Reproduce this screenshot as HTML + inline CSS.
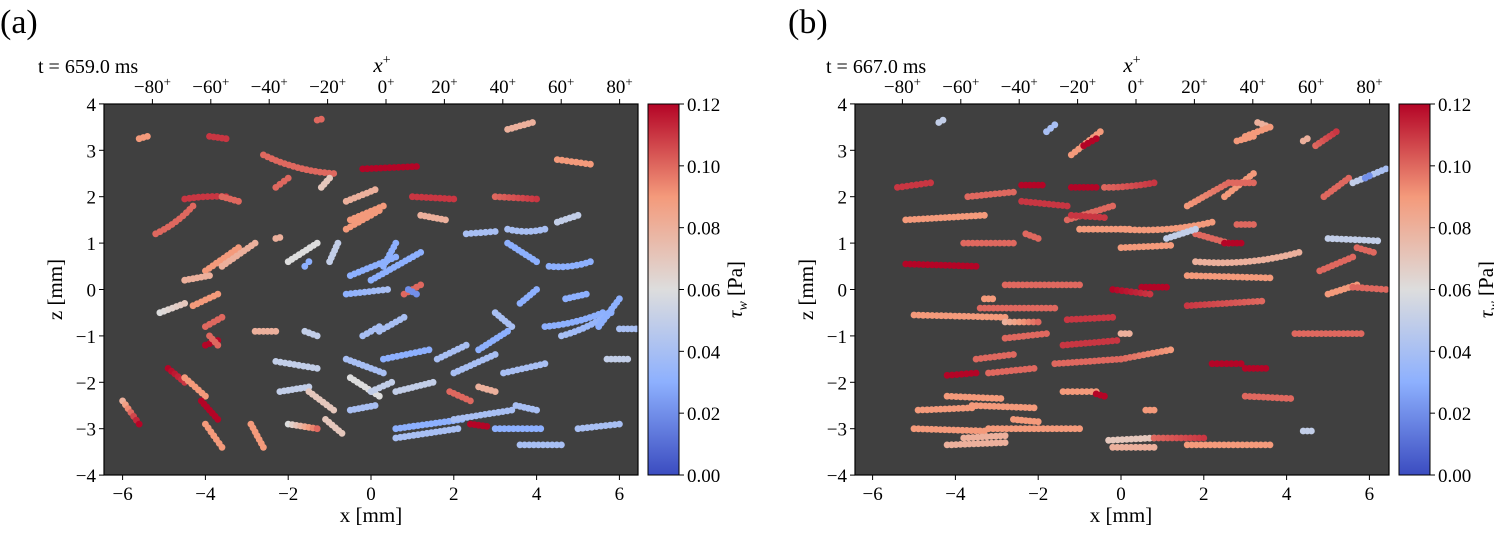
<!DOCTYPE html>
<html><head><meta charset="utf-8">
<style>
body{margin:0;background:#fff;}
svg text{font-family:"Liberation Serif",serif;fill:#000;}
</style></head>
<body>
<svg id="fig" width="1494" height="528" xmlns="http://www.w3.org/2000/svg">
<defs>
<linearGradient id="cw" x1="0" y1="1" x2="0" y2="0">
<stop offset="0" stop-color="#3b4cc0"/><stop offset="0.25" stop-color="#8db0fe"/>
<stop offset="0.5" stop-color="#dddddd"/><stop offset="0.75" stop-color="#f49a7b"/>
<stop offset="1" stop-color="#b40426"/></linearGradient>
</defs>
</svg>
<script>
// streaks: [x0, z0, x1, z1, tau0, tau1, bend]
const streaksA = [
[-5.6,3.25,-5.4,3.3,.09,.09,0],[-3.9,3.3,-3.5,3.25,.11,.11,0],[-1.3,3.65,-1.2,3.67,.1,.1,0],
[3.3,3.45,3.9,3.6,.08,.08,0],[-2.6,2.9,-0.9,2.5,.1,.1,.15],[-0.2,2.6,1.1,2.65,.12,.12,0],
[4.5,2.8,5.3,2.7,.09,.09,0],[-4.5,1.95,-3.5,2.0,.11,.11,-.05],[-3.6,2.0,-3.2,1.9,.1,.1,0],
[-5.2,1.2,-4.3,1.8,.1,.1,.1],[-2.3,2.2,-2.0,2.4,.1,.1,0],[-1.2,2.2,-1.0,2.4,.07,.07,0],
[-0.6,1.9,0.1,2.15,.08,.08,0],[-0.5,1.5,0.3,1.8,.09,.09,0],[-0.6,1.3,0.2,1.7,.09,.09,0],
[1.0,2.0,2.0,1.95,.11,.11,0],[1.2,1.6,1.8,1.5,.08,.08,0],[3.0,2.0,4.0,1.95,.1,.11,0],
[2.3,1.2,3.0,1.25,.04,.04,0],[3.3,1.3,4.2,1.3,.04,.04,.1],[4.5,1.45,5.0,1.6,.05,.05,0],
[-4.0,0.4,-3.2,0.9,.09,.09,0],[-3.6,0.5,-2.8,1.0,.08,.08,0],[-2.3,1.1,-2.2,1.12,.08,.08,0],
[-2.0,0.6,-1.3,1.0,.06,.06,0],[-1.0,0.6,-0.8,1.0,.05,.05,0],[-1.6,0.5,-1.5,0.6,.03,.03,0],
[-0.5,0.3,0.6,0.7,.03,.03,0],[0.0,0.2,1.2,0.8,.03,.03,0],[0.3,0.5,0.6,1.0,.03,.03,0],
[-4.5,0.2,-3.9,0.3,.08,.08,0],[-5.1,-0.5,-4.5,-0.3,.06,.07,0],[-4.3,-0.35,-3.7,-0.1,.09,.09,0],
[-4.0,-0.8,-3.6,-0.6,.1,.1,0],[-0.6,-0.1,0.4,0.0,.03,.04,0],[0.8,-0.1,1.2,0.1,.1,.1,0],
[0.9,0.0,1.1,-0.1,.02,.02,0],[3.3,1.0,4.0,0.6,.03,.03,0],[4.3,0.5,5.3,0.6,.03,.03,.1],
[3.6,-0.3,4.0,0.0,.03,.03,0],[4.7,-0.2,5.2,-0.1,.03,.03,0],[4.2,-0.8,5.6,-0.5,.03,.03,.1],
[4.6,-1.0,5.8,-0.5,.04,.03,.1],[3.0,-0.5,3.4,-0.8,.04,.04,0],[5.5,-0.8,6.0,-0.2,.03,.03,0],
[6.0,-0.85,6.4,-0.85,.04,.04,0],[-2.8,-0.9,-2.3,-0.9,.08,.08,0],[-1.6,-0.9,-1.3,-1.0,.05,.05,0],
[-0.2,-1.0,0.2,-0.8,.04,.04,0],[0.2,-0.9,0.8,-0.6,.04,.04,0],[-4.0,-1.2,-3.7,-1.1,.12,.12,0],
[-3.9,-1.0,-3.7,-1.2,.1,.1,0],[-2.3,-1.55,-1.3,-1.7,.05,.05,0],[-0.6,-1.5,0.3,-1.8,.04,.04,0],
[0.3,-1.5,1.4,-1.3,.03,.03,0],[1.6,-1.5,2.3,-1.2,.04,.04,0],[2.6,-1.3,3.3,-0.9,.03,.03,0],
[2.0,-1.8,3.0,-1.4,.04,.04,0],[3.2,-1.8,4.2,-1.6,.04,.04,0],[5.7,-1.5,6.2,-1.5,.05,.05,0],
[-4.9,-1.7,-4.5,-2.0,.12,.11,0],[-4.5,-1.9,-4.0,-2.3,.09,.09,0],[-2.2,-2.2,-1.5,-2.1,.05,.05,0],
[-1.5,-2.2,-0.9,-2.6,.07,.07,0],[-0.5,-1.9,0.2,-2.3,.06,.06,0],[0.0,-2.2,0.5,-2.0,.05,.05,0],
[0.6,-2.2,1.5,-2.0,.05,.05,0],[1.9,-2.2,2.4,-2.4,.1,.1,0],[2.6,-2.1,3.0,-2.2,.08,.08,0],
[-6.0,-2.4,-5.6,-2.9,.08,.12,0],[-4.1,-2.4,-3.7,-2.8,.12,.12,0],[-4.0,-2.9,-3.6,-3.4,.09,.09,0],
[-2.9,-2.9,-2.6,-3.4,.09,.09,0],[-2.0,-2.9,-1.3,-3.0,.06,.1,0],[-1.1,-2.8,-0.7,-3.1,.07,.07,0],
[-0.5,-2.6,0.1,-2.5,.04,.04,0],[0.6,-3.0,2.2,-2.8,.03,.03,0],[0.6,-3.2,2.1,-3.0,.04,.04,0],
[2.0,-2.8,3.4,-2.6,.04,.04,0],[2.4,-2.9,2.8,-2.95,.12,.12,0],[3.6,-3.35,4.6,-3.35,.04,.04,0],
[3.0,-3.0,4.1,-3.0,.03,.03,0],[5.0,-3.0,6.0,-2.9,.04,.04,0],[3.5,-2.5,4.0,-2.6,.04,.04,0]
];
const streaksB = [
[-4.4,3.6,-4.3,3.65,.05,.05,0],[-1.8,3.4,-1.6,3.55,.04,.04,0],[-1.2,2.9,-0.5,3.4,.09,.09,0],
[-0.9,3.1,-0.6,3.25,.12,.12,0],[2.8,3.2,3.2,3.3,.09,.09,0],[3.3,3.6,3.6,3.5,.08,.08,0],
[3.0,3.3,3.6,3.5,.09,.09,0],[4.4,3.2,4.5,3.25,.08,.08,0],[4.7,3.1,5.2,3.4,.1,.11,0],
[4.9,2.0,5.5,2.4,.1,.1,0],[5.6,2.3,6.4,2.6,.05,.04,0],[5.9,2.4,6.0,2.45,.02,.02,0],
[-5.4,2.2,-4.6,2.3,.11,.11,0],[-3.7,2.0,-2.6,2.1,.1,.1,0],[-2.4,1.9,-1.3,1.8,.11,.11,0],
[-2.4,2.25,-1.9,2.25,.12,.12,0],[-1.2,2.2,-0.6,2.2,.12,.12,0],[-0.4,2.2,0.8,2.3,.1,.11,.05],
[-1.3,1.5,-0.2,1.8,.1,.1,0],[-1.2,1.6,-0.4,1.55,.11,.11,0],[-5.2,1.5,-3.3,1.6,.09,.09,0],
[-2.3,1.2,-2.0,1.1,.1,.1,0],[-1.0,1.3,0.2,1.3,.09,.09,0],[0.0,1.3,2.2,1.45,.09,.09,.15],
[1.6,1.8,2.6,2.3,.09,.1,0],[2.5,2.0,3.2,2.5,.09,.09,0],[2.6,2.3,3.2,2.3,.1,.1,0],
[1.8,1.2,2.6,1.0,.1,.1,0],[1.1,1.1,1.8,1.3,.05,.05,0],[2.5,1.0,2.9,1.0,.12,.12,0],
[-3.8,1.0,-2.6,1.0,.1,.1,0],[-5.2,0.55,-3.5,0.5,.12,.12,0],[0.0,0.9,1.2,0.95,.09,.09,0],
[1.8,0.6,4.3,0.8,.08,.08,.2],[2.8,1.4,3.2,1.4,.1,.1,0],[5.0,1.1,6.2,1.05,.05,.05,0],
[5.7,0.9,6.1,0.8,.1,.1,0],[4.8,0.4,5.6,0.7,.1,.1,0],[5.0,-0.1,5.7,0.1,.09,.09,0],
[5.6,0.05,6.4,0.0,.1,.1,0],[-2.8,0.1,-1.0,0.1,.1,.1,0],[-3.3,-0.2,-3.1,-0.2,.09,.09,0],
[0.5,0.05,1.1,0.05,.12,.12,0],[-0.2,0.0,0.7,-0.1,.12,.11,0],[1.6,0.3,3.6,0.25,.09,.09,0],
[1.6,-0.35,3.4,-0.25,.11,.1,0],[-3.4,-0.4,-1.6,-0.4,.1,.1,0],[-5.0,-0.55,-2.8,-0.6,.09,.09,0],
[-2.8,-0.7,-2.0,-0.7,.08,.1,0],[-1.3,-0.65,-0.2,-0.6,.11,.11,0],[0.0,-0.95,0.2,-0.95,.08,.08,0],
[-2.8,-1.05,-1.8,-0.95,.1,.1,0],[-1.4,-1.2,-0.1,-1.1,.11,.11,0],[4.2,-0.95,5.8,-0.95,.1,.1,0],
[-3.5,-1.5,-2.6,-1.4,.1,.1,0],[-1.6,-1.6,0.0,-1.5,.1,.1,0],[0.0,-1.5,1.2,-1.3,.1,.09,0],
[-4.2,-1.85,-3.5,-1.8,.12,.12,0],[-3.2,-1.8,-2.1,-1.7,.1,.1,0],[2.2,-1.6,2.9,-1.6,.12,.12,0],
[3.0,-1.7,3.5,-1.7,.12,.12,0],[-4.2,-2.3,-2.9,-2.35,.09,.09,0],[-1.4,-2.2,-0.6,-2.2,.09,.09,0],
[-0.6,-2.25,-0.4,-2.3,.12,.12,0],[3.0,-2.3,4.1,-2.35,.1,.1,0],[-4.9,-2.6,-3.6,-2.55,.09,.09,0],
[-3.6,-2.5,-2.1,-2.55,.09,.09,0],[-2.6,-2.8,-2.0,-2.85,.09,.09,0],[-5.0,-3.0,-3.3,-3.05,.09,.09,0],
[-3.2,-3.0,-1.0,-3.0,.09,.09,0],[-3.8,-3.2,-2.8,-3.15,.08,.08,0],[-4.2,-3.35,-2.8,-3.3,.08,.08,0],
[0.6,-2.6,0.8,-2.6,.09,.09,0],[-0.3,-3.25,0.8,-3.2,.07,.07,0],[0.8,-3.2,2.0,-3.2,.1,.11,0],
[-0.2,-3.4,0.8,-3.4,.08,.08,0],[1.6,-3.35,3.6,-3.35,.09,.09,0],[4.4,-3.05,4.6,-3.05,.05,.05,0]
];
const xTicks = [-6,-4,-2,0,2,4,6];
const zTicks = [-4,-3,-2,-1,0,1,2,3,4];
const xPlusTicks = [-80,-60,-40,-20,0,20,40,60,80];
const cbTicks = [0.00,0.02,0.04,0.06,0.08,0.10,0.12];

const NS="http://www.w3.org/2000/svg";
const svg=document.getElementById('fig');
function mk(tag,attrs,parent){const e=document.createElementNS(NS,tag);for(const k in attrs)e.setAttribute(k,attrs[k]);(parent||svg).appendChild(e);return e;}
const cmapStops=[[59,76,192],[141,176,254],[221,221,221],[244,154,123],[180,4,38]];
function cmap(v){let t=Math.max(0,Math.min(1,v/0.12))*4;let i=Math.min(3,Math.floor(t));let f=t-i;const a=cmapStops[i],b=cmapStops[i+1];
return `rgb(${Math.round(a[0]+(b[0]-a[0])*f)},${Math.round(a[1]+(b[1]-a[1])*f)},${Math.round(a[2]+(b[2]-a[2])*f)})`;}

function panel(p){
  const L=p.left,R=p.right,T=104,B=475;
  const xs=x=>p.x0+x*41.4, zs=z=>(T+B)/2-z*46.4;
  const xp=v=>p.xp0+v*2.92;
  const g=mk('g',{});
  
  
  const lab=mk('text',{x:p.labX,y:33,'font-size':34},g);lab.textContent=p.label;
  
  const tt=mk('text',{x:p.labX+38,y:73,'font-size':20},g);tt.textContent=p.time;
  
  const bg=mk('rect',{x:L,y:T,width:R-L,height:B-T,fill:'#404040'},g);
  
  const clip=mk('clipPath',{id:'c'+p.name},g);mk('rect',{x:L,y:T,width:R-L,height:B-T},clip);
  const dots=mk('g',{'clip-path':`url(#c${p.name})`},g);
  
  p.data.forEach(s=>{
    const [x0,z0,x1,z1,c0,c1,bend]=s;
    const X0=xs(x0),Y0=zs(z0),X1=xs(x1),Y1=zs(z1);
    const len=Math.hypot(X1-X0,Y1-Y0);const n=Math.max(1,Math.round(len/4.5));
    const mx=(X0+X1)/2,my=(Y0+Y1)/2;const nx=-(Y1-Y0)/(len||1),ny=(X1-X0)/(len||1);
    const cx=mx+nx*bend*46,cy=my+ny*bend*46;
    for(let i=0;i<=n;i++){const t=i/n;
      const px=(1-t)*(1-t)*X0+2*t*(1-t)*cx+t*t*X1, py=(1-t)*(1-t)*Y0+2*t*(1-t)*cy+t*t*Y1;
      const d=mk('circle',{cx:px.toFixed(1),cy:py.toFixed(1),r:3.4,fill:cmap(c0+(c1-c0)*t)},dots);
      }
  });
  mk('rect',{x:L,y:T,width:R-L,height:B-T,fill:'none',stroke:'#000','stroke-width':1.2},g);
  xTicks.forEach(v=>{const X=xs(v);mk('line',{x1:X,x2:X,y1:B,y2:B+5,stroke:'#000'},g);
    const t=mk('text',{x:X,y:B+25,'font-size':19,'text-anchor':'middle'},g);t.textContent=(v<0?'\u2212':'')+Math.abs(v);
    });
  zTicks.forEach(v=>{const Y=zs(v);mk('line',{x1:L-5,x2:L,y1:Y,y2:Y,stroke:'#000'},g);
    const t=mk('text',{x:L-8,y:Y+7,'font-size':19,'text-anchor':'end'},g);t.textContent=(v<0?'\u2212':'')+Math.abs(v);
    });
  xPlusTicks.forEach(v=>{const X=xp(v);mk('line',{x1:X,x2:X,y1:T-5,y2:T,stroke:'#000'},g);
    const t=mk('text',{x:X,y:T-11,'font-size':19,'text-anchor':'middle'},g);t.innerHTML=(v<0?'\u2212':'')+Math.abs(v)+'<tspan dy="-7" font-size="13">+</tspan>';
    });
  const xt=mk('text',{x:xs(0),y:522,'font-size':21,'text-anchor':'middle'},g);xt.textContent='x  [mm]';
  
  const zt=mk('text',{x:0,y:0,'font-size':21,'text-anchor':'middle',transform:`translate(${L-42},${zs(0)}) rotate(-90)`},g);zt.textContent='z  [mm]';
  
  const xpt=mk('text',{x:xp(0)-4,y:72,'font-size':21,'font-style':'italic','text-anchor':'middle'},g);xpt.innerHTML='x<tspan dy="-8" font-size="14" font-style="normal">+</tspan>';
  
  // colorbar
  const cb=mk('rect',{x:p.cb,y:T,width:31,height:B-T,fill:'url(#cw)',stroke:'#000','stroke-width':1},g);
  
  cbTicks.forEach(v=>{const Y=B-(v/0.12)*(B-T);mk('line',{x1:p.cb+31,x2:p.cb+36,y1:Y,y2:Y,stroke:'#000'},g);
    const t=mk('text',{x:p.cb+39,y:Y+7,'font-size':19},g);t.textContent=v.toFixed(2);
    });
  const ct=mk('text',{x:0,y:0,'font-size':21,'text-anchor':'middle',transform:`translate(${p.cb+94},${zs(0)}) rotate(-90)`},g);
  ct.innerHTML='<tspan font-style="italic">τ</tspan><tspan dy="5" font-size="14" font-style="italic">w</tspan><tspan dy="-5"> [Pa]</tspan>';
  
}
panel({name:'panel-a',label:'(a)',time:'t = 659.0 ms',left:104,right:638,x0:371,xp0:386,cb:648,labX:0,data:streaksA});
panel({name:'panel-b',label:'(b)',time:'t = 667.0 ms',left:855,right:1389,x0:1121,xp0:1136,cb:1399,labX:788,data:streaksB});
</script>
</body></html>
